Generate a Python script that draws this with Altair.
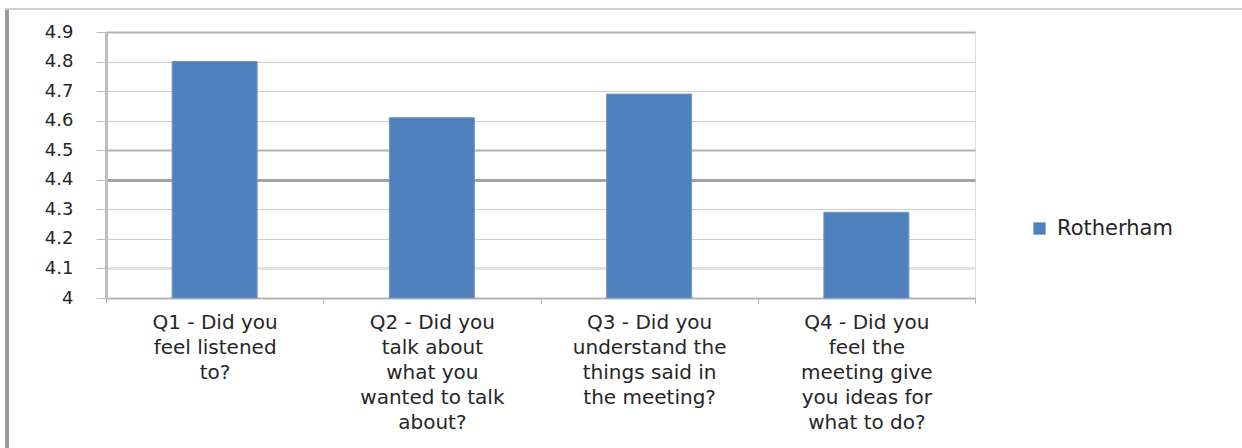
import altair as alt
import pandas as pd

categories = [
    "Q1 - Did you|feel listened|to?",
    "Q2 - Did you|talk about|what you|wanted to talk|about?",
    "Q3 - Did you|understand the|things said in|the meeting?",
    "Q4 - Did you|feel the|meeting give|you ideas for|what to do?",
]
values = [4.80, 4.61, 4.69, 4.29]
series = ["Rotherham"] * 4
y_ticks = [4.0, 4.1, 4.2, 4.3, 4.4, 4.5, 4.6, 4.7, 4.8, 4.9]
baseline = 4.0

df = pd.DataFrame({"q": categories, "score": values, "series": series})

FONT = "DejaVu Sans"
TXT = "#262626"

grid_w = {
    "condition": [
        {"test": "abs(datum.value-4.4)<0.01", "value": 3},
        {"test": "abs(datum.value-4.1)<0.01", "value": 3},
        {"test": "abs(datum.value-4.5)<0.01 || abs(datum.value-4.9)<0.01", "value": 2},
    ],
    "value": 1,
}
grid_c = {
    "condition": [
        {"test": "abs(datum.value-4.4)<0.01", "value": "#a3a3a3"},
        {"test": "abs(datum.value-4.1)<0.01", "value": "#e2e2e2"},
        {"test": "abs(datum.value-4.5)<0.01 || abs(datum.value-4.9)<0.01", "value": "#b3b3b3"},
    ],
    "value": "#cfcfcf",
}

bars = alt.Chart(df).mark_bar(width=85, stroke="#6f95c8", strokeWidth=1).encode(
    x=alt.X(
        "q:N",
        sort=None,
        title=None,
        scale=alt.Scale(paddingInner=0, paddingOuter=0),
        axis=alt.Axis(
            labelExpr="split(datum.label, '|')",
            labelAngle=0,
            labelFont=FONT,
            labelFontSize=20,
            labelColor=TXT,
            labelLineHeight=25,
            labelPadding=9,
            labelLimit=0,
            labelBaseline="top",
            tickBand="extent",
            tickSize=5,
            tickColor="#b5b5b5",
            domainColor="#b5b5b5",
            domainWidth=2,
            grid=False,
        ),
    ),
    y=alt.Y(
        "score:Q",
        title=None,
        scale=alt.Scale(domain=[4.0, 4.9], nice=False, zero=False),
        axis=alt.Axis(
            values=y_ticks,
            format=".1~f",
            labelFont=FONT,
            labelFontSize=18,
            labelColor=TXT,
            labelPadding=23,
            tickSize=10,
            tickColor="#bdbdbd",
            domainColor="#bdbdbd",
            domainWidth=3,
            grid=True,
            gridWidth=grid_w,
            gridColor=grid_c,
        ),
    ),
    y2=alt.Y2(datum=baseline),
    color=alt.Color(
        "series:N",
        title=None,
        scale=alt.Scale(range=["#4f81bd"]),
        legend=alt.Legend(
            orient="none",
            legendX=923,
            legendY=186,
            symbolType="square",
            symbolSize=150,
            symbolStrokeWidth=0,
            labelFont=FONT,
            labelFontSize=21,
            labelColor=TXT,
            labelOffset=7,
        ),
    ),
)

frame_left = alt.Chart(df).mark_rule(color="#9a9a9a", strokeWidth=3).encode(
    x=alt.value(-99), y=alt.value(-23), y2=alt.value(420)
)
frame_top = alt.Chart(df).mark_rule(color="#cfcfcf", strokeWidth=1.5).encode(
    x=alt.value(-101), x2=alt.value(1140), y=alt.value(-23)
)

chart = alt.layer(bars, frame_left, frame_top).properties(
    width=869,
    height=266,
    padding={"left": 106, "top": 32, "right": 267, "bottom": 150},
    autosize="none",
).configure_view(stroke=None).configure(background="white")

chart.save("out.html", embed_options={"renderer": "svg", "actions": False})
